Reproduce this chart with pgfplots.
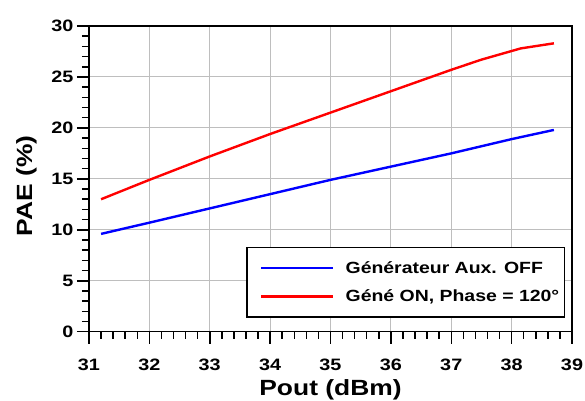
\documentclass[border=0pt]{standalone}
\usepackage{pgfplots}
\pgfplotsset{compat=1.18}
\usepackage{fontspec}
\setmainfont{Liberation Sans}[FakeStretch=1.2]
\definecolor{gridgray}{RGB}{190,190,190}
\begin{document}
\begin{tikzpicture}
\begin{axis}[
  scale only axis,
  width=483pt, height=305.7pt,
  xmin=31, xmax=39, ymin=0, ymax=30,
  xtick={31,...,39}, ytick={0,5,...,30},
  minor x tick num=4, minor y tick num=4,
  tick align=outside,
  xtick pos=bottom, ytick pos=left,
  major tick length=12pt, minor tick length=7pt,
  every tick/.style={black, line width=1.5pt},
  axis line style={line width=1.5pt},
  grid=major,
  major grid style={gridgray, line width=1pt},
  xticklabel={\pgfmathtruncatemacro\t{\tick}\textbf{\t}},
  yticklabel={\pgfmathtruncatemacro\t{\tick}\textbf{\t}},
  tick label style={font=\fontsize{16.5}{18}\selectfont\bfseries},
  xticklabel style={yshift=-12pt},
  xlabel={Pout (dBm)}, ylabel={PAE (\%)},
  label style={font=\fontsize{22}{24}\selectfont\bfseries},
  xlabel style={at={(axis description cs:0.5,-0.1897)}, anchor=center},
  ylabel style={at={(axis description cs:-0.1294,0.477)}, anchor=center},
  legend style={at={(0.9855,0.045)}, anchor=south east, draw=black, line width=1.5pt,
    font=\fontsize{16.2}{18}\selectfont\bfseries, inner xsep=3pt, inner ysep=12pt,
    row sep=11pt, /tikz/every odd column/.append style={column sep=9pt}},
  legend cell align=left,
  legend image code/.code={\path (-10pt,0pt); \draw[#1, line width=2.5pt] (0pt,0pt) -- (72pt,0pt);},
]
\addplot[blue, line width=2.4pt] coordinates {
(31.2,9.6) (32,10.7) (33,12.1) (34,13.5) (35,14.9) (36,16.2) (37,17.5) (38,18.9) (38.7,19.8)};
\addlegendentry{Générateur Aux. OFF}
\addplot[red, line width=2.4pt] coordinates {
(31.2,13.0) (32,14.9) (33,17.2) (34,19.4) (35,21.5) (36,23.6) (37,25.7) (37.5,26.7) (38.15,27.8) (38.7,28.3)};
\addlegendentry{Géné ON, Phase = 120°}
\end{axis}
\pgfresetboundingbox
\path[use as bounding box] (-89pt,-68.3pt) rectangle (496pt,331.7pt);
\end{tikzpicture}
\end{document}
